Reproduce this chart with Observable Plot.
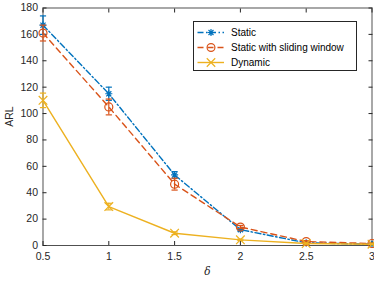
<!DOCTYPE html>
<html><head><meta charset="utf-8">
<script src="https://cdn.jsdelivr.net/npm/d3@7"></script>
<script src="https://cdn.jsdelivr.net/npm/@observablehq/plot@0.6"></script>
<style>
body{margin:0;background:#fff;font-family:"Liberation Sans",Arial,sans-serif;}
#wrap{position:relative;width:374px;height:281px;}
#legend{position:absolute;left:193px;top:21px;width:164px;height:50px;border:1px solid #262626;background:#fff;box-sizing:border-box;color:#000;}
#legend svg{position:absolute;left:0;top:0;}
</style></head><body><div id="wrap"></div>
<script>
const delta = [0.5, 1, 1.5, 2, 2.5, 3];
const seriesNames = ["Static", "Static with sliding window", "Dynamic"];
const staticARL = [167, 115, 53.5, 12, 2, 1];
const staticErr = [7, 5, 2.5, 1, 0.5, 0.3];
const slidingARL = [161, 105, 46.5, 14, 3, 1.5];
const slidingErr = [6, 6, 4.5, 1.2, 0.6, 0.3];
const dynamicARL = [110, 29.5, 9.3, 4.3, 1.5, 1];
const dynamicErr = [5.5, 2.5, 1, 0.5, 0.3, 0.2];
const colors = ["#0072BD", "#D95319", "#EDB120"];
const dashes = ["6,2.5,1.5,2.5", "6,4", null];

const asterisk8 = {draw(ctx, size){ const r = Math.sqrt(size)/2;
  ctx.moveTo(-r,0);ctx.lineTo(r,0);ctx.moveTo(0,-r);ctx.lineTo(0,r);
  const d=r*0.72; ctx.moveTo(-d,-d);ctx.lineTo(d,d);ctx.moveTo(-d,d);ctx.lineTo(d,-d);}};
const cap = {draw(ctx, size){ const r = Math.sqrt(size)/2; ctx.moveTo(-r,0); ctx.lineTo(r,0);}};
const symbols = [asterisk8, "circle", "times"];

const vals = [staticARL, slidingARL, dynamicARL];
const errs = [staticErr, slidingErr, dynamicErr];
const data = [];
seriesNames.forEach((s, i) => delta.forEach((d, j) => data.push({series: i, delta: d, arl: vals[i][j], lo: vals[i][j]-errs[i][j], hi: vals[i][j]+errs[i][j]})));

const marks = [];
[0,1,2].forEach(i => {
  const D = data.filter(d => d.series === i);
  marks.push(Plot.ruleX(D, {x: "delta", y1: "lo", y2: "hi", stroke: colors[i], strokeWidth: 1.2}));
  marks.push(Plot.dot(D, {x: "delta", y: "lo", symbol: cap, r: 3.5, stroke: colors[i], strokeWidth: 1.2}));
  marks.push(Plot.dot(D, {x: "delta", y: "hi", symbol: cap, r: 3.5, stroke: colors[i], strokeWidth: 1.2}));
  marks.push(Plot.line(D, {x: "delta", y: "arl", stroke: colors[i], strokeWidth: 1.4, strokeDasharray: dashes[i]}));
  marks.push(Plot.dot(D, {x: "delta", y: "arl", symbol: symbols[i], r: 4, stroke: colors[i], strokeWidth: 1.2, fill: "none"}));
});

const tickFmt = d => String(d);
const chart = Plot.plot({
  width: 374, height: 281,
  marginLeft: 42.5, marginRight: 2.5, marginTop: 7.5, marginBottom: 36,
  style: {fontFamily: "Liberation Sans, Arial, sans-serif", fontSize: "10.5px", color: "#262626", background: "white"},
  x: {domain: [0.5, 3], ticks: [0.5,1,1.5,2,2.5,3]},
  y: {domain: [0, 180], ticks: d3.range(0, 181, 20)},
  marks: [
    Plot.frame({stroke: "#262626", strokeWidth: 0.8}),
    Plot.axisX({anchor: "bottom", ticks: delta, tickSize: -4, tickPadding: 11, tickFormat: tickFmt, label: null, fontSize: 10.5}),
    Plot.axisX({anchor: "top", ticks: delta, tickSize: -4, tickFormat: () => "", label: null}),
    Plot.axisY({anchor: "left", ticks: d3.range(0,181,20), tickSize: -4, tickPadding: 9, label: null, fontSize: 10.5}),
    Plot.axisY({anchor: "right", ticks: d3.range(0,181,20), tickSize: -4, tickFormat: () => "", label: null}),
    ...marks,
    Plot.text(["ARL"], {frameAnchor: "left", dx: -33, rotate: -90, fill: "#262626", fontSize: 10.5}),
    Plot.text(["δ"], {frameAnchor: "bottom", dy: 29, fill: "#262626", fontSize: 10.5, fontStyle: "italic", fontFamily: "DejaVu Serif, serif"})
  ]
});
const wrap = document.getElementById("wrap");
wrap.appendChild(chart);

// legend
const leg = document.createElement("div"); leg.id = "legend";
const lsvg = d3.create("svg").attr("width", 164).attr("height", 50);
seriesNames.forEach((name, i) => {
  const y = 10.5 + i*15;
  lsvg.append("line").attr("x1", 3.5).attr("x2", 30).attr("y1", y).attr("y2", y)
    .attr("stroke", colors[i]).attr("stroke-width", 1.4).attr("stroke-dasharray", dashes[i]);
  const sym = typeof symbols[i] === "string" ? (symbols[i] === "circle" ? d3.symbolCircle : d3.symbolTimes) : symbols[i];
  lsvg.append("path").attr("d", d3.symbol(sym, 48)()).attr("transform", `translate(17,${y})`)
    .attr("stroke", colors[i]).attr("fill", "none").attr("stroke-width", 1.2);
  lsvg.append("text").attr("x", 37).attr("y", y).attr("dy", "0.35em").attr("font-size", 10)
    .attr("font-family", "Liberation Sans, Arial, sans-serif").attr("fill", "#000").text(name);
});
leg.appendChild(lsvg.node());
wrap.appendChild(leg);
</script></body></html>
